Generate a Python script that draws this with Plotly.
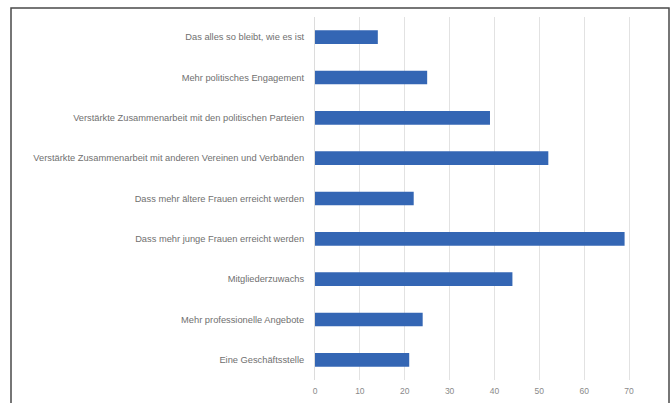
import plotly.graph_objects as go

categories = [
    "Das alles so bleibt, wie es ist",
    "Mehr politisches Engagement",
    "Verstärkte Zusammenarbeit mit den politischen Parteien",
    "Verstärkte Zusammenarbeit mit anderen Vereinen und Verbänden",
    "Dass mehr ältere Frauen erreicht werden",
    "Dass mehr junge Frauen erreicht werden",
    "Mitgliederzuwachs",
    "Mehr professionelle Angebote",
    "Eine Geschäftsstelle",
]
values = [14, 25, 39, 52, 22, 69, 44, 24, 21]
x_ticks = [0, 10, 20, 30, 40, 50, 60, 70]

W, H = 672, 403
L, R, T, B = 315, 16, 17, 23
pw, ph = W - L - R, H - T - B

def px_x(p):
    return (p - L) / pw

def px_y(p):
    return (H - B - p) / ph

fig = go.Figure(go.Bar(
    y=categories, x=values, orientation="h",
    marker=dict(color="#3466b4", line=dict(width=0)),
))

fig.update_layout(
    width=W, height=H,
    margin=dict(l=L, r=R, t=T, b=B),
    paper_bgcolor="white", plot_bgcolor="white",
    bargap=0.66,
    showlegend=False,
    font=dict(family="Liberation Sans, Arial, sans-serif", size=9, color="#707070"),
    xaxis=dict(
        range=[0, 76], tickvals=x_ticks, showgrid=True, gridcolor="#e2e2e2",
        gridwidth=1, zeroline=False, showline=False, ticks="",
        ticklabelstandoff=4, automargin=False,
        tickfont=dict(size=8.5, color="#8a8a8a"),
    ),
    yaxis=dict(
        categoryorder="array", categoryarray=categories[::-1],
        showline=True, linecolor="#dcdcdc", linewidth=1, ticks="",
        ticklabelstandoff=8, showgrid=False, zeroline=False, automargin=False,
        tickfont=dict(size=9.3, color="#707070"),
    ),
    shapes=[dict(
        type="rect", xref="paper", yref="paper",
        x0=px_x(11), x1=px_x(669), y0=px_y(415), y1=px_y(8),
        line=dict(color="#4a4a4a", width=1.5), fillcolor="rgba(0,0,0,0)",
        layer="above",
    )],
)

fig.write_html(
    "out.html",
    config={"displayModeBar": False},
    post_script="document.body.style.margin='0';document.body.style.overflow='hidden';",
)
